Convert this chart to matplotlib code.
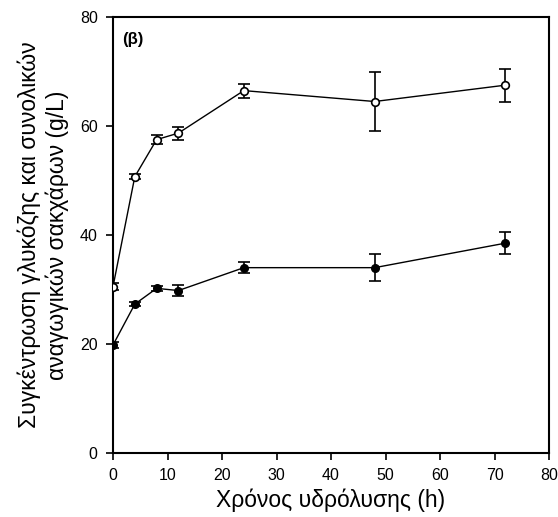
import matplotlib
matplotlib.use('Agg')
import matplotlib.pyplot as plt

plt.rcParams['font.family'] = ['Liberation Sans', 'DejaVu Sans']

# hydrolysis time (h)
time_h = [0, 4, 8, 12, 24, 48, 72]

# total reducing sugars (open) and glucose (filled), g/L
sugars = [30.5, 50.7, 57.5, 58.7, 66.5, 64.5, 67.5]
sugars_err = [0.6, 0.5, 0.8, 1.2, 1.3, 5.5, 3.0]
glucose = [19.8, 27.3, 30.2, 29.8, 34.0, 34.0, 38.5]
glucose_err = [0.6, 0.4, 0.5, 1.0, 1.0, 2.5, 2.0]

xticks = [0, 10, 20, 30, 40, 50, 60, 70, 80]
yticks = [0, 20, 40, 60, 80]

fig = plt.figure(figsize=(5.58, 5.17), dpi=100)
ax = fig.add_axes([0.2025, 0.124, 0.7815, 0.843])

ax.errorbar(time_h, sugars, yerr=sugars_err, color='black', lw=1.0,
            marker='o', ms=5.5, mfc='white', mec='black', mew=1.2,
            capsize=4, elinewidth=1.2, capthick=1.2, zorder=3)
ax.errorbar(time_h, glucose, yerr=glucose_err, color='black', lw=1.0,
            marker='o', ms=5.5, mfc='black', mec='black',
            capsize=4, elinewidth=1.2, capthick=1.2, zorder=3)

ax.set_xlim(0, 80)
ax.set_ylim(0, 80)
ax.set_xticks(xticks)
ax.set_yticks(yticks)
ax.tick_params(direction='out', length=5, width=1.2, labelsize=11.5, pad=6)
for s in ax.spines.values():
    s.set_linewidth(1.5)

ax.text(0.02, 0.965, '(β)', transform=ax.transAxes, fontsize=12,
        fontweight='bold', va='top', ha='left')

ax.set_xlabel('Χρόνος υδρόλυσης (h)', fontsize=16.5, labelpad=4)
ax.set_ylabel('Συγκέντρωση γλυκόζης και συνολικών\nαναγωγικών σακχάρων (g/L)',
              fontsize=16.5, labelpad=8, linespacing=1.25)

fig.savefig('out.png', dpi=100)
